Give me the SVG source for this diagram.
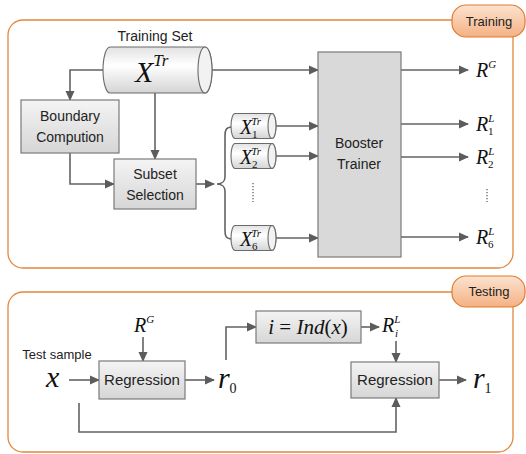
<svg xmlns="http://www.w3.org/2000/svg" width="526" height="454" viewBox="0 0 526 454">
<style>
.frame{fill:#fff;stroke:#E2873F;stroke-width:1.3}
.tab{fill:url(#tabg);stroke:#E07B2F;stroke-width:1.2}
.tabt{font-family:"Liberation Sans",Arial,sans-serif;font-size:13px;fill:#222;text-anchor:middle}
.box{fill:url(#boxg);stroke:#7a7a7a;stroke-width:1.2}
.lbl{font-family:"Liberation Sans",Arial,sans-serif;font-size:14px;fill:#222;text-anchor:middle}
.m{font-family:"Liberation Serif","Times New Roman",serif;font-style:italic;fill:#111}
.mu{font-family:"Liberation Serif","Times New Roman",serif;font-style:normal;fill:#111}
.cyl{fill:url(#cylg);stroke:#6a6a6a;stroke-width:1.1}
.cend{fill:#f2f2f2;stroke:#6a6a6a;stroke-width:1.1}
.ln{fill:none;stroke:#636363;stroke-width:1.6}
.arr{fill:none;stroke:#636363;stroke-width:1.6;marker-end:url(#ah)}
.dots{fill:none;stroke:#555;stroke-width:1.2;stroke-dasharray:1.2 1.8}
</style>
<defs>
<linearGradient id="tabg" x1="0" y1="0" x2="0" y2="1"><stop offset="0" stop-color="#FCE3D0"/><stop offset="1" stop-color="#F4B183"/></linearGradient>
<linearGradient id="boxg" x1="0" y1="0" x2="0" y2="1"><stop offset="0" stop-color="#F4F4F4"/><stop offset="1" stop-color="#D6D6D6"/></linearGradient>
<linearGradient id="cylg" x1="0" y1="0" x2="0" y2="1"><stop offset="0" stop-color="#E2E2E2"/><stop offset="0.4" stop-color="#FFFFFF"/><stop offset="1" stop-color="#D4D4D4"/></linearGradient>
<marker id="ah" viewBox="0 0 10 10" refX="9" refY="5" markerWidth="10" markerHeight="10" markerUnits="userSpaceOnUse" orient="auto"><path d="M0,0.5 L10,5 L0,9.5 Z" fill="#5c5c5c"/></marker>
</defs>

<g id="training-frame">
<rect class="frame" x="8" y="20" width="505" height="248" rx="15"/>
<rect class="tab" x="452" y="5" width="73" height="32" rx="14"/>
<text class="tabt" x="489" y="26">Training</text>
</g>
<g id="testing-frame">
<rect class="frame" x="8" y="292" width="505" height="160" rx="15"/>
<rect class="tab" x="452" y="276" width="73" height="31" rx="14"/>
<text class="tabt" x="489" y="296">Testing</text>
</g>

<g id="connectors">
<polyline class="arr" points="103,70 70,70 70,100"/>
<line class="arr" x1="155" y1="93" x2="155" y2="159"/>
<polyline class="arr" points="70,153 70,184 114,184"/>
<line class="arr" x1="196" y1="184" x2="214" y2="184"/>
<path class="ln" d="M232,127 C226,127 225,130 225,136 V177 C225,181 222,184 217,184 C222,184 225,187 225,191 V231 C225,236 226,239 232,239"/>
<line class="arr" x1="212" y1="70" x2="318" y2="70"/>
<line class="arr" x1="276" y1="126" x2="318" y2="126"/>
<line class="arr" x1="276" y1="156" x2="318" y2="156"/>
<line class="arr" x1="276" y1="238" x2="318" y2="238"/>
<line class="arr" x1="401" y1="70" x2="468" y2="70"/>
<line class="arr" x1="401" y1="124" x2="468" y2="124"/>
<line class="arr" x1="401" y1="157" x2="468" y2="157"/>
<line class="arr" x1="401" y1="237" x2="468" y2="237"/>
<line class="dots" x1="253" y1="183" x2="253" y2="202"/>
<line class="dots" x1="487" y1="189" x2="487" y2="202"/>

<line class="arr" x1="143" y1="337" x2="143" y2="361"/>
<line class="arr" x1="69" y1="380" x2="99" y2="380"/>
<line class="arr" x1="185" y1="380" x2="214" y2="380"/>
<polyline class="arr" points="226,360 226,327 256,327"/>
<line class="arr" x1="361" y1="327" x2="379" y2="327"/>
<line class="arr" x1="396" y1="341" x2="396" y2="362"/>
<line class="arr" x1="439" y1="380" x2="466" y2="380"/>
<polyline class="arr" points="79,403 79,432 396,432 396,398"/>
</g>

<g id="training-set">
<text class="lbl" x="155" y="41">Training Set</text>
<path class="cyl" d="M110,47 H205 A7,23 0 0 1 205,93 H110 A7,23 0 0 1 110,47 Z"/>
<ellipse class="cend" cx="205" cy="70" rx="7" ry="23"/>
<text class="m" x="135" y="82" font-size="30">X<tspan font-size="17" dy="-16">Tr</tspan></text>
</g>

<g id="boundary">
<rect class="box" x="21" y="100" width="98" height="53"/>
<text class="lbl" x="70" y="121">Boundary</text>
<text class="lbl" x="70" y="142">Compution</text>
</g>

<g id="subset">
<rect class="box" x="114" y="159" width="82" height="50"/>
<text class="lbl" x="155" y="179">Subset</text>
<text class="lbl" x="155" y="200">Selection</text>
</g>

<g id="x1">
<path class="cyl" d="M235,113.5 H272 A4,12.5 0 0 1 272,138.5 H235 A4,12.5 0 0 1 235,113.5 Z"/>
<ellipse class="cend" cx="272" cy="126" rx="4" ry="12.5"/>
<text class="m" x="240" y="134" font-size="20">X<tspan font-size="11" dy="-9" dx="-1">Tr</tspan></text>
<text class="mu" x="252" y="138" font-size="11">1</text>
</g>
<g id="x2">
<path class="cyl" d="M235,143.5 H272 A4,12.5 0 0 1 272,168.5 H235 A4,12.5 0 0 1 235,143.5 Z"/>
<ellipse class="cend" cx="272" cy="156" rx="4" ry="12.5"/>
<text class="m" x="240" y="164" font-size="20">X<tspan font-size="11" dy="-9" dx="-1">Tr</tspan></text>
<text class="mu" x="252" y="168" font-size="11">2</text>
</g>
<g id="x6">
<path class="cyl" d="M235,225.5 H272 A4,12.5 0 0 1 272,250.5 H235 A4,12.5 0 0 1 235,225.5 Z"/>
<ellipse class="cend" cx="272" cy="238" rx="4" ry="12.5"/>
<text class="m" x="240" y="246" font-size="20">X<tspan font-size="11" dy="-9" dx="-1">Tr</tspan></text>
<text class="mu" x="252" y="250" font-size="11">6</text>
</g>

<g id="booster">
<rect class="box" x="318" y="52" width="83" height="205" style="fill:#D9D9D9"/>
<text class="lbl" x="359" y="148">Booster</text>
<text class="lbl" x="359" y="169">Trainer</text>
</g>

<g id="outputs">
<text class="m" x="476" y="77" font-size="20">R<tspan font-size="11" dy="-9">G</tspan></text>
<text class="m" x="476" y="131" font-size="20">R<tspan font-size="11" dy="-9">L</tspan></text>
<text class="mu" x="488" y="135" font-size="11">1</text>
<text class="m" x="476" y="164" font-size="20">R<tspan font-size="11" dy="-9">L</tspan></text>
<text class="mu" x="488" y="168" font-size="11">2</text>
<text class="m" x="476" y="244" font-size="20">R<tspan font-size="11" dy="-9">L</tspan></text>
<text class="mu" x="488" y="248" font-size="11">6</text>
</g>

<g id="test-input">
<text class="lbl" x="57" y="359" style="font-size:13px">Test sample</text>
<text class="m" x="46" y="387" font-size="30">x</text>
</g>
<g id="rg-test">
<text class="m" x="134" y="332" font-size="20">R<tspan font-size="11" dy="-9">G</tspan></text>
</g>
<g id="regression1">
<rect class="box" x="99" y="361" width="86" height="38"/>
<text class="lbl" x="142" y="385" style="font-size:15px">Regression</text>
</g>
<g id="r0">
<text class="m" x="218" y="388" font-size="30">r</text>
<text class="mu" x="229.5" y="393" font-size="14">0</text>
</g>
<g id="ind">
<rect class="box" x="256" y="311" width="105" height="32"/>
<text class="m" x="308" y="334" font-size="21" text-anchor="middle">i <tspan class="mu">=</tspan> Ind<tspan class="mu">(</tspan>x<tspan class="mu">)</tspan></text>
</g>
<g id="ril">
<text class="m" x="382" y="332" font-size="20">R<tspan font-size="11" dy="-9">L</tspan></text>
<text class="m" x="395" y="337" font-size="11">i</text>
</g>
<g id="regression2">
<rect class="box" x="351" y="362" width="88" height="36"/>
<text class="lbl" x="395" y="385" style="font-size:15px">Regression</text>
</g>
<g id="r1">
<text class="m" x="473" y="388" font-size="30">r</text>
<text class="mu" x="484.5" y="393" font-size="14">1</text>
</g>
</svg>
